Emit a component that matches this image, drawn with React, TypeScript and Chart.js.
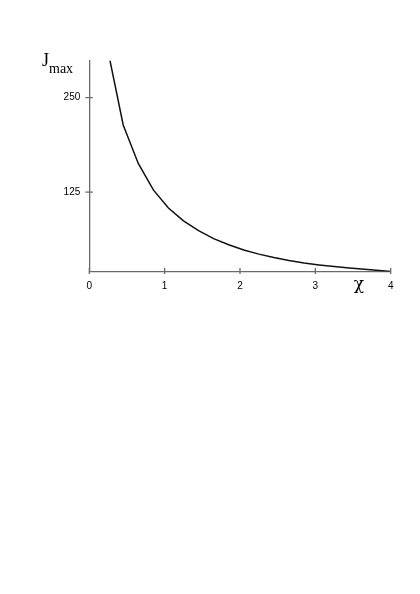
import React, { useEffect, useRef } from "react";
import { Chart, registerables } from "chart.js";

Chart.register(...registerables);

const xValues = [0.25, 0.45, 0.65, 0.85, 1.05, 1.25, 1.45, 1.65, 1.85, 2.05, 2.25, 2.45, 2.65, 2.85, 3.05, 3.25, 3.45, 3.65, 3.85, 4.0];
const jmaxValues = [311, 214, 163, 128, 104, 87, 74, 63.5, 55.5, 48.5, 43, 38.5, 34.5, 31.3, 28.7, 26.5, 24.6, 22.9, 21.3, 20];
const xTicks = [0, 1, 2, 3, 4];
const yTicks = [125, 250];
const xMin = 0;
const xMax = 4;
const yMin = 20;
const yMax = 299;
const yTitle = "J";
const yTitleSub = "max";
const xTitle = "χ";

const axisColor = "#6a6a6a";

const customPlugin = {
  id: "custom",
  afterDraw(chart: any) {
    const ctx = chart.ctx;
    const xs = chart.scales.x;
    const ys = chart.scales.y;
    const area = chart.chartArea;
    ctx.save();
    ctx.strokeStyle = axisColor;
    ctx.lineWidth = 1.3;
    ctx.beginPath();
    for (const t of xTicks) {
      const px = xs.getPixelForValue(t);
      ctx.moveTo(px, area.bottom - 3.5);
      ctx.lineTo(px, area.bottom + 2.5);
    }
    for (const t of yTicks) {
      const py = ys.getPixelForValue(t);
      ctx.moveTo(area.left - 4, py);
      ctx.lineTo(area.left + 3.5, py);
    }
    ctx.stroke();

    ctx.fillStyle = "#000";
    ctx.textBaseline = "alphabetic";
    ctx.textAlign = "left";
    ctx.font = "18px 'Liberation Serif', serif";
    ctx.fillText(yTitle, 42, 66);
    ctx.font = "14px 'Liberation Serif', serif";
    ctx.fillText(yTitleSub, 49, 73);
    ctx.font = "17px 'DejaVu Serif', serif";
    ctx.textAlign = "center";
    ctx.fillText(xTitle, 359, 289);
    ctx.restore();
  },
};

export default function App() {
  const ref = useRef<HTMLCanvasElement>(null);
  useEffect(() => {
    if (!ref.current) return;
    const chart = new Chart(ref.current, {
      type: "line",
      data: {
        datasets: [
          {
            data: xValues.map((x, i) => ({ x, y: jmaxValues[i] })),
            borderColor: "#111",
            borderWidth: 1.5,
            pointRadius: 0,
            tension: 0,
            fill: false,
          },
        ],
      },
      options: {
        animation: false,
        responsive: false,
        layout: { padding: { left: 0, top: 60.7, right: 29.3, bottom: 0 } },
        plugins: { legend: { display: false }, tooltip: { enabled: false } },
        scales: {
          x: {
            type: "linear",
            min: xMin,
            max: xMax,
            afterBuildTicks: (s: any) => {
              s.ticks = xTicks.map((v) => ({ value: v }));
            },
            afterFit: (s: any) => {
              s.height = 594 - 271.5;
            },
            grid: { display: false },
            border: { display: true, color: axisColor, width: 1.3 },
            ticks: {
              color: "#000",
              padding: 1,
              maxRotation: 0,
              font: { family: "'Liberation Sans', Arial, sans-serif", size: 10 },
            },
          },
          y: {
            type: "linear",
            min: yMin,
            max: yMax,
            afterBuildTicks: (s: any) => {
              s.ticks = yTicks.map((v) => ({ value: v }));
            },
            afterFit: (s: any) => {
              s.width = 89.3;
            },
            grid: { display: false },
            border: { display: true, color: axisColor, width: 1.3 },
            ticks: {
              color: "#000",
              padding: 1,
              font: { family: "'Liberation Sans', Arial, sans-serif", size: 10 },
            },
          },
        },
      },
      plugins: [customPlugin],
    });
    return () => chart.destroy();
  }, []);
  return (
    <div style={{ position: "fixed", left: 0, top: 0, width: 420, height: 594, background: "#fff" }}>
      <canvas ref={ref} width={420} height={594} style={{ display: "block" }} />
    </div>
  );
}
